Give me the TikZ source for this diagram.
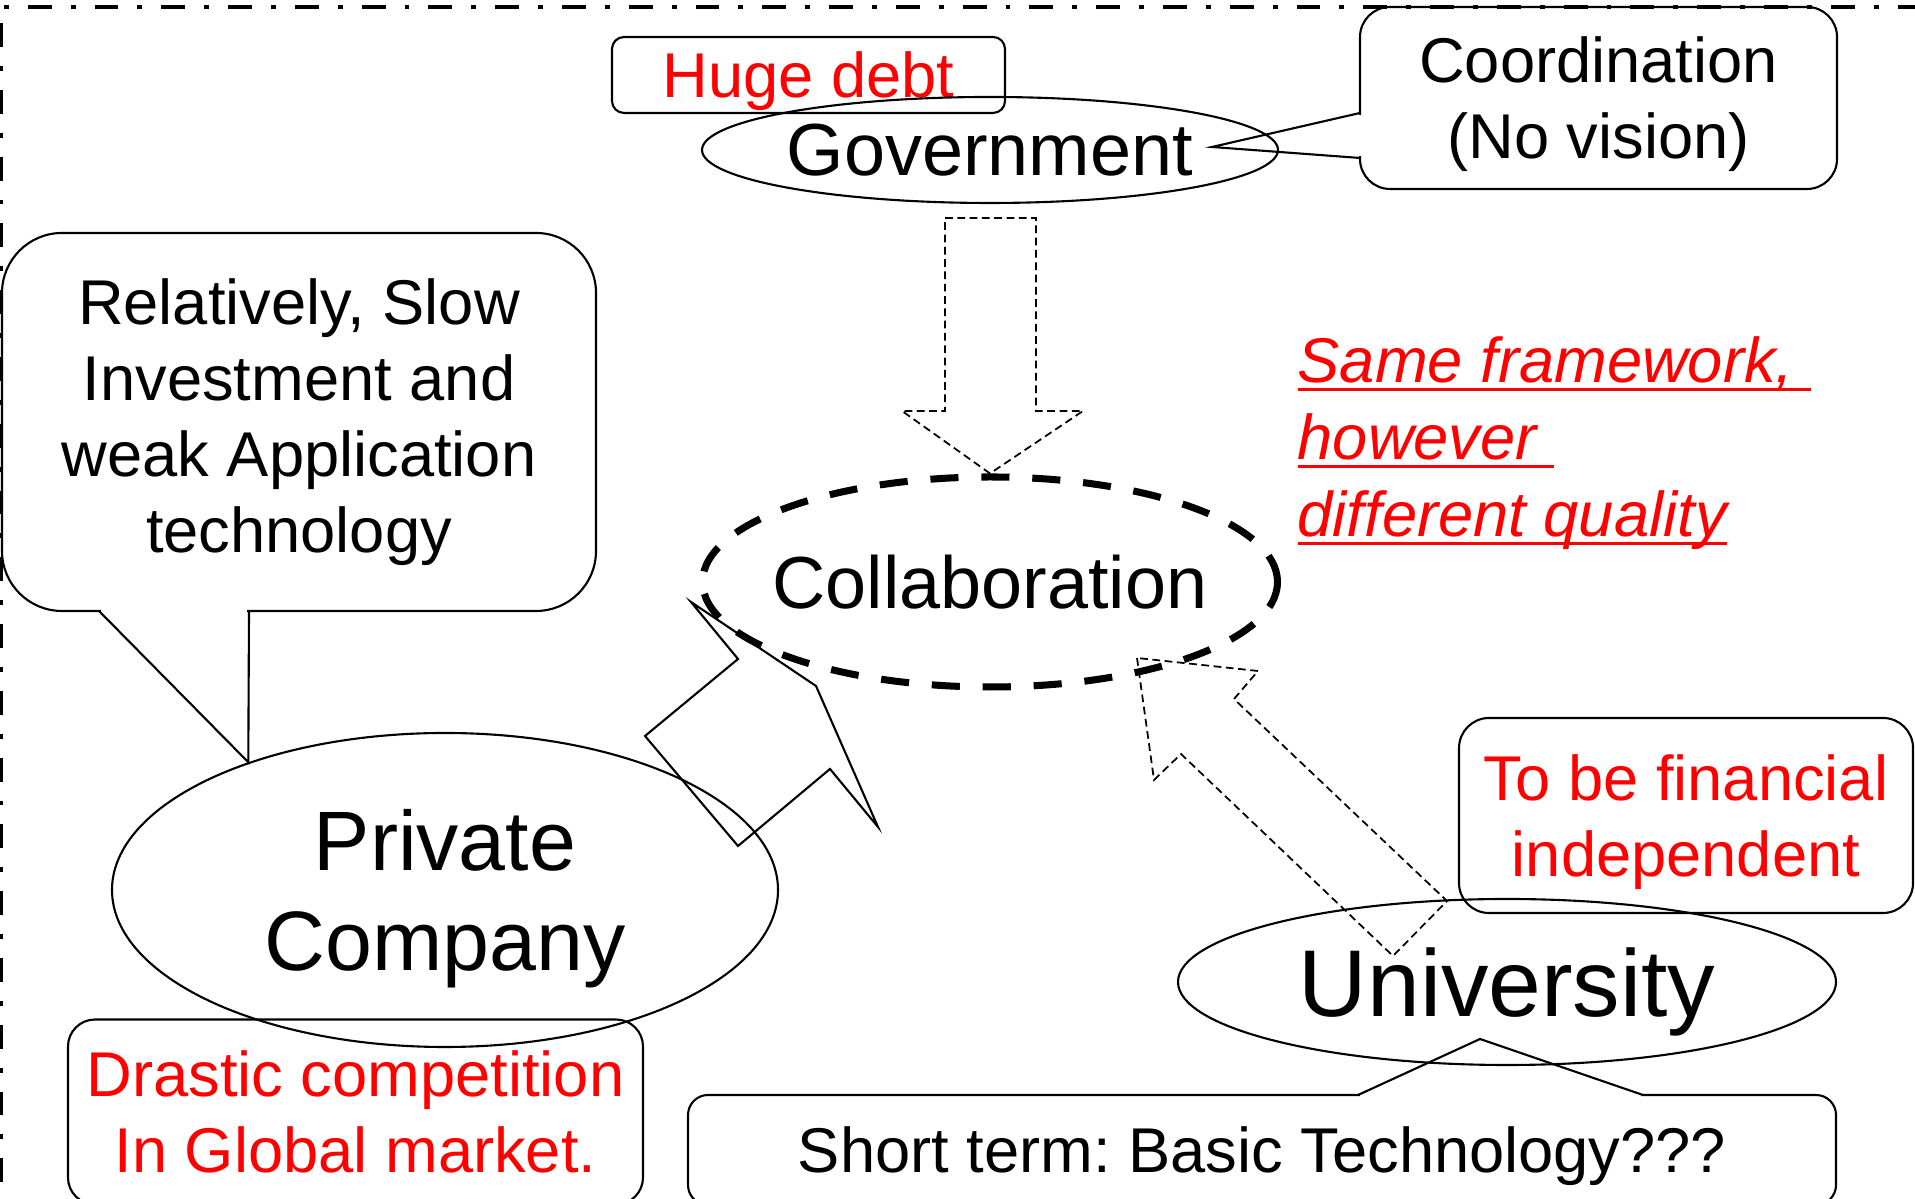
\documentclass[tikz,border=0pt]{standalone}
\usepackage{fontspec}
\setmainfont{Liberation Sans}
\usepackage{xcolor}
\usepackage{tikz}
\usetikzlibrary{shapes.geometric}
\frenchspacing

% underline at a fixed depth below the baseline
\newcommand{\redul}[1]{\setbox0\hbox{#1}\rlap{\rule[-0.13em]{\wd0}{0.05em}}\box0}

\begin{document}
\begin{tikzpicture}[
    actor/.style={ellipse, draw, line width=0.6pt, inner sep=0pt},
    notebox/.style={rectangle, draw, line width=0.6pt, inner sep=0pt, align=center, font=\fontsize{18}{21.6}\selectfont},
    flowarrow/.style={line width=0.5pt, dash pattern=on 2.2pt off 1.3pt},
]
    \useasboundingbox (0,0) rectangle (19.15,11.99);
    \clip (0,0) rectangle (19.15,11.99);

    % Outer frame
    \draw[line width=1.4pt, dash pattern=on 6.8pt off 5.4pt on 1.4pt off 5.4pt] (0.01,-0.5) -- (0.01,11.92) -- (19.6,11.92);

    % Callout boxes
    \node[notebox, rounded corners=0.6cm, minimum width=5.94cm, minimum height=3.78cm] (slow) at (2.99,7.77)
        {Relatively, Slow\\Investment and\\weak Application\\technology};
    \node[notebox, rounded corners=0.3cm, minimum width=4.77cm, minimum height=1.82cm, text depth=0pt] (coord) at (15.985,11.01)
        {Coordination\\(No vision)};
    \node[notebox, rounded corners=0.2cm, minimum width=11.48cm, minimum height=1.10cm, text depth=0pt] (shortterm) at (12.62,0.49)
        {Short term: Basic Technology???};
    \node[notebox, rounded corners=0.12cm, minimum width=3.93cm, minimum height=0.76cm, text depth=0pt, text=red] (debt) at (8.085,11.24)
        {Huge debt};
    \node[notebox, rounded corners=0.3cm, minimum width=4.54cm, minimum height=1.95cm, text depth=0pt, text=red] (finance) at (16.86,3.835)
        {To be financial\\independent};
    \node[notebox, rounded corners=0.27cm, minimum width=5.75cm, minimum height=1.85cm, text=red] (drastic) at (3.555,0.87)
        {Drastic competition\\In Global market.};

    % Actors
    \node[actor, minimum width=5.76cm, minimum height=1.06cm, text depth=0pt, font=\fontsize{21}{25}\selectfont] (gov) at (9.90,10.49) {Government};
    \node[actor, minimum width=6.66cm, minimum height=3.14cm, align=center, text depth=0pt, font=\fontsize{24}{28.7}\selectfont] (company) at (4.45,3.09) {Private\\Company};
    \node[actor, minimum width=6.58cm, minimum height=1.66cm, text depth=0pt, font=\fontsize{27}{32}\selectfont] (univ) at (15.07,2.17) {University};
    \node[actor, line width=2pt, dash pattern=on 8pt off 6.5pt, minimum width=5.75cm, minimum height=2.10cm, text depth=0pt, font=\fontsize{21}{25}\selectfont] (collab) at (9.90,6.17) {\makebox[0pt]{Collaboration}};

    % Callout tails
    \coordinate (govtip) at (12.12,10.52);
    \coordinate (unitip) at (14.80,1.60);
    \fill[white] (1.01,5.86) rectangle (2.47,5.90);
    \draw[line width=0.6pt] (0.99,5.88) -- (company.147) -- (2.49,5.88);
    \fill[white] (13.58,10.43) rectangle (13.62,10.84);
    \draw[line width=0.6pt] (13.60,10.86) -- (govtip) -- (13.60,10.41);
    \fill[white] (13.60,1.02) rectangle (16.41,1.06);
    \draw[line width=0.6pt] (13.58,1.04) -- (unitip) -- (16.43,1.04);

    % Block arrows into the collaboration
    \draw[flowarrow] (9.45,9.81) -- (10.36,9.81) -- (10.36,7.88) -- (10.83,7.88) -- (collab.north) -- (9.02,7.88) -- (9.45,7.88) -- cycle;
    \draw[line width=0.6pt] (6.91,5.97) -- (7.38,5.40) -- (6.45,4.63) -- (7.38,3.53) -- (8.30,4.30) -- (8.78,3.72) -- (8.16,5.13) -- cycle;
    \draw[flowarrow] (11.37,5.41) -- (11.54,4.19) -- (11.81,4.45) -- (13.93,2.43) -- (14.47,2.98) -- (12.34,5.00) -- (12.58,5.28) -- cycle;

    % Remark
    \node[anchor=north west, inner sep=0pt, align=left, text=red, font=\fontsize{18}{21.9}\selectfont\itshape] (remark) at (12.97,8.63)
        {\redul{Same framework,\ }\\\redul{however\ }\\\redul{different quality}};
\end{tikzpicture}
\end{document}
